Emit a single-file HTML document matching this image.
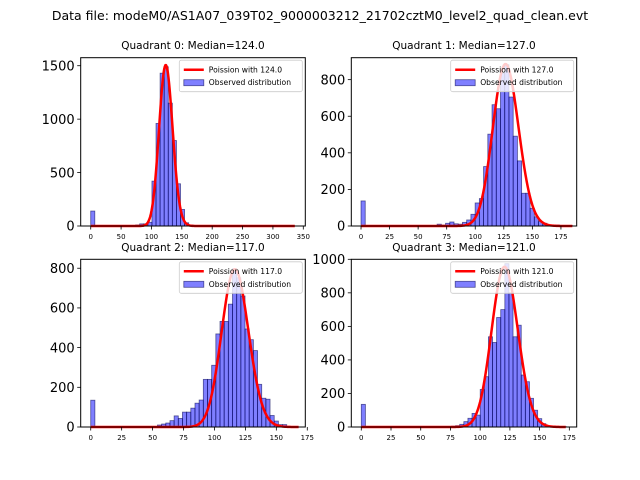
<!DOCTYPE html>
<html><head><meta charset="utf-8"><style>
html,body{margin:0;padding:0;background:#fff}
svg{display:block;font-family:"DejaVu Sans","Liberation Sans",sans-serif}
</style></head><body>
<svg id="fig" width="640" height="480" viewBox="0 0 640 480">
<rect width="640" height="480" fill="#fff"/>
<text x="320" y="20" text-anchor="middle" font-size="12.5">Data file: modeM0/AS1A07_039T02_9000003212_21702cztM0_level2_quad_clean.evt</text>
</svg>
<script>
// Quadrant 0
const q0Counts=[140,0,0,0,0,0,0,0,0,0,5,10,20,20,35,420,960,1430,1490,1150,800,395,155,30,10,3,2,1,0,0,0,0,0,0,0,0,0,0,0,0,0,0,0,0,0,0,0,0,0,0];
const q0Median=124; const q0Max=336; const q0Peak=1505;
const q0XTicks=[0,50,100,150,200,250,300,350];
const q0YTicks=[0,500,1000,1500];
// Quadrant 1
const q1Counts=[137,0,0,0,0,0,0,0,0,0,0,0,0,0,0,0,0,0,10,5,15,22,12,10,20,33,64,126,150,325,502,663,641,836,882,705,491,356,179,179,97,50,24,15,5,3,5,3,2,2];
const q1Median=127; const q1Max=185; const q1Peak=885;
const q1XTicks=[0,25,50,75,100,125,150,175];
const q1YTicks=[0,200,400,600,800];
// Quadrant 2
const q2Counts=[135,0,0,0,0,0,0,0,0,0,0,0,0,0,0,0,10,15,20,32,56,43,75,75,95,120,136,240,240,311,469,532,532,619,798,752,660,494,440,385,215,145,140,58,30,12,12,3,0,0];
const q2Median=117; const q2Max=168.5; const q2Peak=795;
const q2XTicks=[0,25,50,75,100,125,150,175];
const q2YTicks=[0,200,400,600,800];
// Quadrant 3
const q3Counts=[135,0,0,0,0,0,0,0,0,0,0,0,0,0,0,0,0,0,0,0,0,0,5,8,16,32,52,81,71,224,300,538,504,653,700,974,800,538,607,310,270,171,100,50,20,8,3,2,2,2];
const q3Median=121; const q3Max=172.5; const q3Peak=955;
const q3XTicks=[0,25,50,75,100,125,150,175];
const q3YTicks=[0,200,400,600,800,1000];

const NS="http://www.w3.org/2000/svg";
const svg=document.getElementById('fig');
function mk(tag,attrs,parent){const e=document.createElementNS(NS,tag);for(const k in attrs)e.setAttribute(k,attrs[k]);(parent||svg).appendChild(e);return e;}
function lgamma(n){let s=0;for(let i=2;i<=n;i++)s+=Math.log(i);return s;}
const panels=[
 {id:0,counts:q0Counts,med:q0Median,max:q0Max,peak:q0Peak,xt:q0XTicks,yt:q0YTicks,box:[80.7,57.7,305.3,226],xl:[-16.5,353.3],yl:1575},
 {id:1,counts:q1Counts,med:q1Median,max:q1Max,peak:q1Peak,xt:q1XTicks,yt:q1YTicks,box:[351.3,57.7,576.7,226],xl:[-8.5,188.8],yl:920},
 {id:2,counts:q2Counts,med:q2Median,max:q2Max,peak:q2Peak,xt:q2XTicks,yt:q2YTicks,box:[80.7,259.3,305.3,427],xl:[-8.1,173.4],yl:845},
 {id:3,counts:q3Counts,med:q3Median,max:q3Max,peak:q3Peak,xt:q3XTicks,yt:q3YTicks,box:[351.3,259.3,576.7,427],xl:[-8.4,181.2],yl:1000}
];
panels.forEach(p=>{
 const [L,T,R,B]=p.box;
 const g=mk('g',{});
 
 
 const X=v=>L+(v-p.xl[0])/(p.xl[1]-p.xl[0])*(R-L);
 const Y=v=>B-v/p.yl*(B-T);
 const t=mk('text',{x:(L+R)/2,y:T-8.5,'text-anchor':'middle','font-size':'10.5'},g);
 t.textContent='Quadrant '+p.id+': Median='+p.med.toFixed(1);
 
 
 const n=p.counts.length, w=p.max/n;
 p.counts.forEach((c,i)=>{
  if(c<=0)return;
  const r=mk('rect',{x:X(i*w),y:Y(c),width:X((i+1)*w)-X(i*w),height:Y(0)-Y(c),fill:'rgba(0,0,255,0.5)',stroke:'rgba(0,0,80,0.6)','stroke-width':'0.8'},g);
  
  
 });
 const lp=lgamma(Math.floor(p.med));
 const pk=Math.exp(Math.floor(p.med)*Math.log(p.med)-p.med-lp);
 let pts=[];
 for(let k=0;k<=Math.floor(p.max);k++){
  const v=Math.exp(k*Math.log(Math.max(p.med,1e-9))-p.med-lgamma(k))/pk*p.peak;
  pts.push(X(k).toFixed(2)+','+Y(v).toFixed(2));
 }
 const pl=mk('polyline',{points:pts.join(' '),fill:'none',stroke:'#ff0000','stroke-width':'2.5','stroke-linejoin':'round'},g);
 
 
 const fr=mk('rect',{x:L,y:T,width:R-L,height:B-T,fill:'none',stroke:'#000','stroke-width':'1'},g);
 
 
 p.xt.forEach(v=>{
  const x=X(v);
  mk('line',{x1:x,y1:B,x2:x,y2:B+3.5,stroke:'#000','stroke-width':'0.8'},g);
  const tx=mk('text',{x:x,y:B+13,'text-anchor':'middle','font-size':'7'},g);
  tx.textContent=v;
  
  
 });
 p.yt.forEach(v=>{
  const y=Y(v);
  mk('line',{x1:L-3.5,y1:y,x2:L,y2:y,stroke:'#000','stroke-width':'0.8'},g);
  const ty=mk('text',{x:L-6,y:y+4.7,'text-anchor':'end','font-size':'13'},g);
  ty.textContent=v;
  
  
 });
 const lg=mk('g',{},g);
 
 
 const lx=R-126, ly=T+2.5;
 mk('rect',{x:lx,y:ly,width:123,height:31.5,rx:2,fill:'rgba(255,255,255,0.8)',stroke:'#ccc','stroke-width':'0.8'},lg);
 mk('line',{x1:lx+4.5,y1:ly+9.5,x2:lx+24.5,y2:ly+9.5,stroke:'#ff0000','stroke-width':'2.5'},lg);
 const t1=mk('text',{x:lx+29.5,y:ly+12.2,'font-size':'7.6'},lg);
 t1.textContent='Poission with '+p.med.toFixed(1);
 
 
 mk('rect',{x:lx+4.5,y:ly+19.5,width:20,height:6,fill:'rgba(0,0,255,0.5)',stroke:'rgba(0,0,80,0.6)','stroke-width':'0.8'},lg);
 const t2=mk('text',{x:lx+29.5,y:ly+25,'font-size':'7.6'},lg);
 t2.textContent='Observed distribution';
 
 
});
</script>
</body></html>
